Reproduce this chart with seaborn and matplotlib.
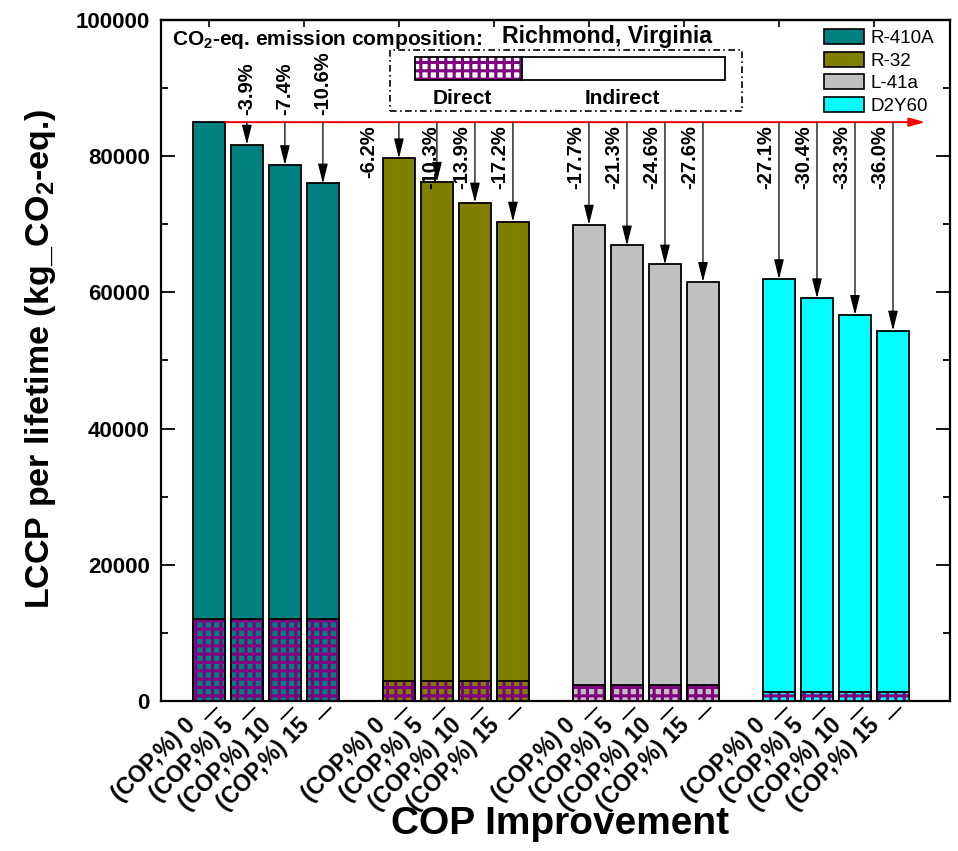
import numpy as np
import pandas as pd
import matplotlib
matplotlib.use("Agg")
import matplotlib.pyplot as plt
from matplotlib.patches import Rectangle, Patch
from matplotlib.path import Path
from matplotlib.transforms import ScaledTranslation
import seaborn as sns

# ---------------- data ----------------
refrigerants = ["R-410A", "R-32", "L-41a", "D2Y60"]
cop_improvement = [0, 5, 10, 15]
cop_tick_labels = ["(COP,%) 0", "(COP,%) 5", "(COP,%) 10", "(COP,%) 15"]

# total LCCP per lifetime (kg CO2-eq.)
lccp_r410a = [85000, 81700, 78700, 76000]
lccp_r32 = [79700, 76250, 73200, 70400]
lccp_l41a = [69950, 66900, 64100, 61550]
lccp_d2y60 = [61950, 59150, 56700, 54400]

# direct (refrigerant-related) part of the LCCP
direct_r410a = [12000, 12000, 12000, 12000]
direct_r32 = [2900, 2900, 2900, 2900]
direct_l41a = [2300, 2300, 2300, 2300]
direct_d2y60 = [1300, 1300, 1300, 1300]

# change relative to the R-410A baseline
change_r410a = ["", "-3.9%", "-7.4%", "-10.6%"]
change_r32 = ["-6.2%", "-10.3%", "-13.9%", "-17.2%"]
change_l41a = ["-17.7%", "-21.3%", "-24.6%", "-27.6%"]
change_d2y60 = ["-27.1%", "-30.4%", "-33.3%", "-36.0%"]

totals = [lccp_r410a, lccp_r32, lccp_l41a, lccp_d2y60]
directs = [direct_r410a, direct_r32, direct_l41a, direct_d2y60]
changes = [change_r410a, change_r32, change_l41a, change_d2y60]

# ---------------- style ----------------
palette = {"R-410A": "#008080", "R-32": "#808000", "L-41a": "#C0C0C0", "D2Y60": "#00FFFF"}
PURPLE = "#800080"

sns.set_theme(style="ticks")
plt.rcParams.update({
    "font.family": ["Liberation Sans", "DejaVu Sans"],
    "font.weight": "bold",
    "text.color": "black",
    "axes.labelcolor": "black",
    "xtick.color": "black",
    "ytick.color": "black",
    "axes.linewidth": 1.6,
    "axes.edgecolor": "black",
    "hatch.linewidth": 2.2,
    "mathtext.fontset": "custom",
    "mathtext.rm": "Liberation Sans:bold",
    "mathtext.bf": "Liberation Sans:bold",
    "mathtext.it": "Liberation Sans:bold",
    "mathtext.default": "bf",
})

W, H = 958, 851
fig = plt.figure(figsize=(W / 100, H / 100), dpi=100)


def fx(px):
    return px / W


def fy(py):
    return 1 - py / H


ax = fig.add_axes([fx(161), fy(701), (950 - 161) / W, (701 - 20) / H])

# long-form table; each refrigerant group is separated by one empty slot
rows = []
for g, name in enumerate(refrigerants):
    for i, cop in enumerate(cop_improvement):
        rows.append({
            "pos": g * 5 + i,
            "refrigerant": name,
            "cop": cop,
            "total": totals[g][i],
            "direct": directs[g][i],
            "change": changes[g][i],
            "tick": cop_tick_labels[i],
        })
df = pd.DataFrame(rows)

BAR_W = 0.86
# total LCCP bars
sns.barplot(data=df, x="pos", y="total", hue="refrigerant", hue_order=refrigerants,
            palette=palette, native_scale=True, dodge=False, width=BAR_W,
            saturation=1, errorbar=None, edgecolor="black", linewidth=1.3,
            legend=False, ax=ax, zorder=2)

# direct part, hatched in purple
n_before = len(ax.patches)
sns.barplot(data=df, x="pos", y="direct", hue="refrigerant", hue_order=refrigerants,
            palette=palette, native_scale=True, dodge=False, width=BAR_W,
            saturation=1, errorbar=None, linewidth=0,
            legend=False, ax=ax, zorder=3)
direct_bars = list(ax.patches[n_before:])
for bar in direct_bars:
    bar.set_hatch("++")
    bar.set_edgecolor(PURPLE)
    bar.set_linewidth(0)
    ax.add_patch(Rectangle((bar.get_x(), 0), bar.get_width(), bar.get_height(),
                           fill=False, edgecolor="black", linewidth=1.3, zorder=4))

# baseline reference line (R-410A, 0 % COP improvement)
base = lccp_r410a[0]
ax.annotate("", xy=(18.85, base), xytext=(BAR_W / 2, base),
            arrowprops=dict(arrowstyle="-|>,head_length=0.8,head_width=0.22",
                            color="red", lw=1.4, shrinkA=0, shrinkB=0),
            zorder=5)

# reduction arrows and percentage labels
label_nudge = {"-6.2%": -0.55, "-10.3%": 0.08}
for _, r in df.iterrows():
    if r["change"] == "":
        continue
    ax.annotate("", xy=(r["pos"], r["total"]), xytext=(r["pos"], base),
                arrowprops=dict(arrowstyle="-|>,head_length=1.0,head_width=0.25",
                                color="black", lw=0.9, shrinkA=0, shrinkB=0),
                zorder=5)
    if r["refrigerant"] == "R-410A":
        ax.text(r["pos"], base + 1000, r["change"], rotation=90, ha="center",
                va="bottom", fontsize=14.5, fontweight="bold", zorder=6)
    else:
        ax.text(r["pos"] + label_nudge.get(r["change"], -0.1), base - 450, r["change"],
                rotation=90, ha="right", va="top", fontsize=14.5, fontweight="bold",
                zorder=6)

# ---------------- axes ----------------
ax.set_xlim(-1.26, 19.5)
ax.set_ylim(0, 100000)
yt = np.arange(0, 100001, 20000)
ax.set_yticks(yt, labels=[str(v) for v in yt])
ax.set_yticks(np.arange(10000, 100000, 20000), minor=True)
ax.tick_params(axis="y", which="both", direction="in", left=True, right=True,
               width=1.3, labelsize=16, pad=8)
ax.tick_params(axis="y", which="major", length=10)
ax.tick_params(axis="y", which="minor", length=5)
for t in ax.get_yticklabels():
    t.set_fontweight("bold")

ax.set_xticks(df["pos"], labels=df["tick"])
ax.tick_params(axis="x", which="major", direction="in", length=26, width=1.3,
               pad=15, labelsize=16.5, top=False, bottom=True)
ax.tick_params(axis="x", which="minor", bottom=False, top=False)
# slanted tick marks below the axis, following the label direction
diag = Path([(8, -6), (-5, -19)], [Path.MOVETO, Path.LINETO])
for t in ax.xaxis.get_major_ticks():
    t.tick1line.set_marker(diag)
    t.tick2line.set_visible(False)
shift = ScaledTranslation(-17 / 100, 0, fig.dpi_scale_trans)
for lbl in ax.get_xticklabels():
    lbl.set_rotation(45)
    lbl.set_ha("right")
    lbl.set_va("center")
    lbl.set_rotation_mode("anchor")
    lbl.set_fontweight("bold")
    lbl.set_transform(lbl.get_transform() + shift)

top = ax.secondary_xaxis("top")
top.set_xticks(np.arange(0, 19.5, 2.5))
top.tick_params(direction="in", length=5, width=1.2, labeltop=False)

for s in ax.spines.values():
    s.set_linewidth(1.6)
    s.set_color("black")

ax.set_xlabel("COP Improvement", fontsize=28, fontweight="bold")
ax.set_ylabel("LCCP per lifetime (kg_CO$_2$-eq.)", fontsize=24.5, fontweight="bold")
ax.xaxis.set_label_coords(0.506, -0.181)
ax.xaxis.label.set_va("center")
ax.yaxis.set_label_coords(-0.153, 0.502)
ax.yaxis.label.set_va("center")

# ---------------- legend ----------------
handles = [Patch(facecolor=palette[r], edgecolor="black", linewidth=1.2, label=r)
           for r in refrigerants]
fig.legend(handles=handles, loc="upper left", bbox_to_anchor=(fx(824), fy(29)),
           bbox_transform=fig.transFigure, frameon=False, borderpad=0,
           borderaxespad=0, handlelength=2.15, handleheight=0.85,
           handletextpad=0.35, labelspacing=0.25,
           prop={"family": "Liberation Sans", "weight": "normal", "size": 13.5})

# ---------------- composition key ----------------
fig.text(fx(172), fy(45), "CO$_2$-eq. emission composition:", fontsize=15,
         fontweight="bold", ha="left", va="baseline")
fig.text(fx(502), fy(43), "Richmond, Virginia", fontsize=16.7, fontweight="bold",
         ha="left", va="baseline")
fig.add_artist(Rectangle((fx(390), fy(111)), fx(742) - fx(390), fy(50) - fy(111),
                         transform=fig.transFigure, fill=False, edgecolor="black",
                         linewidth=1.2, linestyle=(0, (4, 2, 1, 2))))
key_direct = Rectangle((fx(415), fy(80)), fx(522) - fx(415), fy(57) - fy(80),
                       transform=fig.transFigure, facecolor="white", hatch="++",
                       edgecolor=PURPLE, linewidth=0)
fig.add_artist(key_direct)
fig.add_artist(Rectangle((fx(415), fy(80)), fx(522) - fx(415), fy(57) - fy(80),
                         transform=fig.transFigure, fill=False, edgecolor="black",
                         linewidth=1.3))
fig.add_artist(Rectangle((fx(522), fy(80)), fx(725) - fx(522), fy(57) - fy(80),
                         transform=fig.transFigure, facecolor="white",
                         edgecolor="black", linewidth=1.3))
fig.text(fx(462), fy(99), "Direct", fontsize=15, fontweight="bold",
         ha="center", va="center")
fig.text(fx(622), fy(99), "Indirect", fontsize=15, fontweight="bold",
         ha="center", va="center")

fig.savefig("out.png", dpi=100)
